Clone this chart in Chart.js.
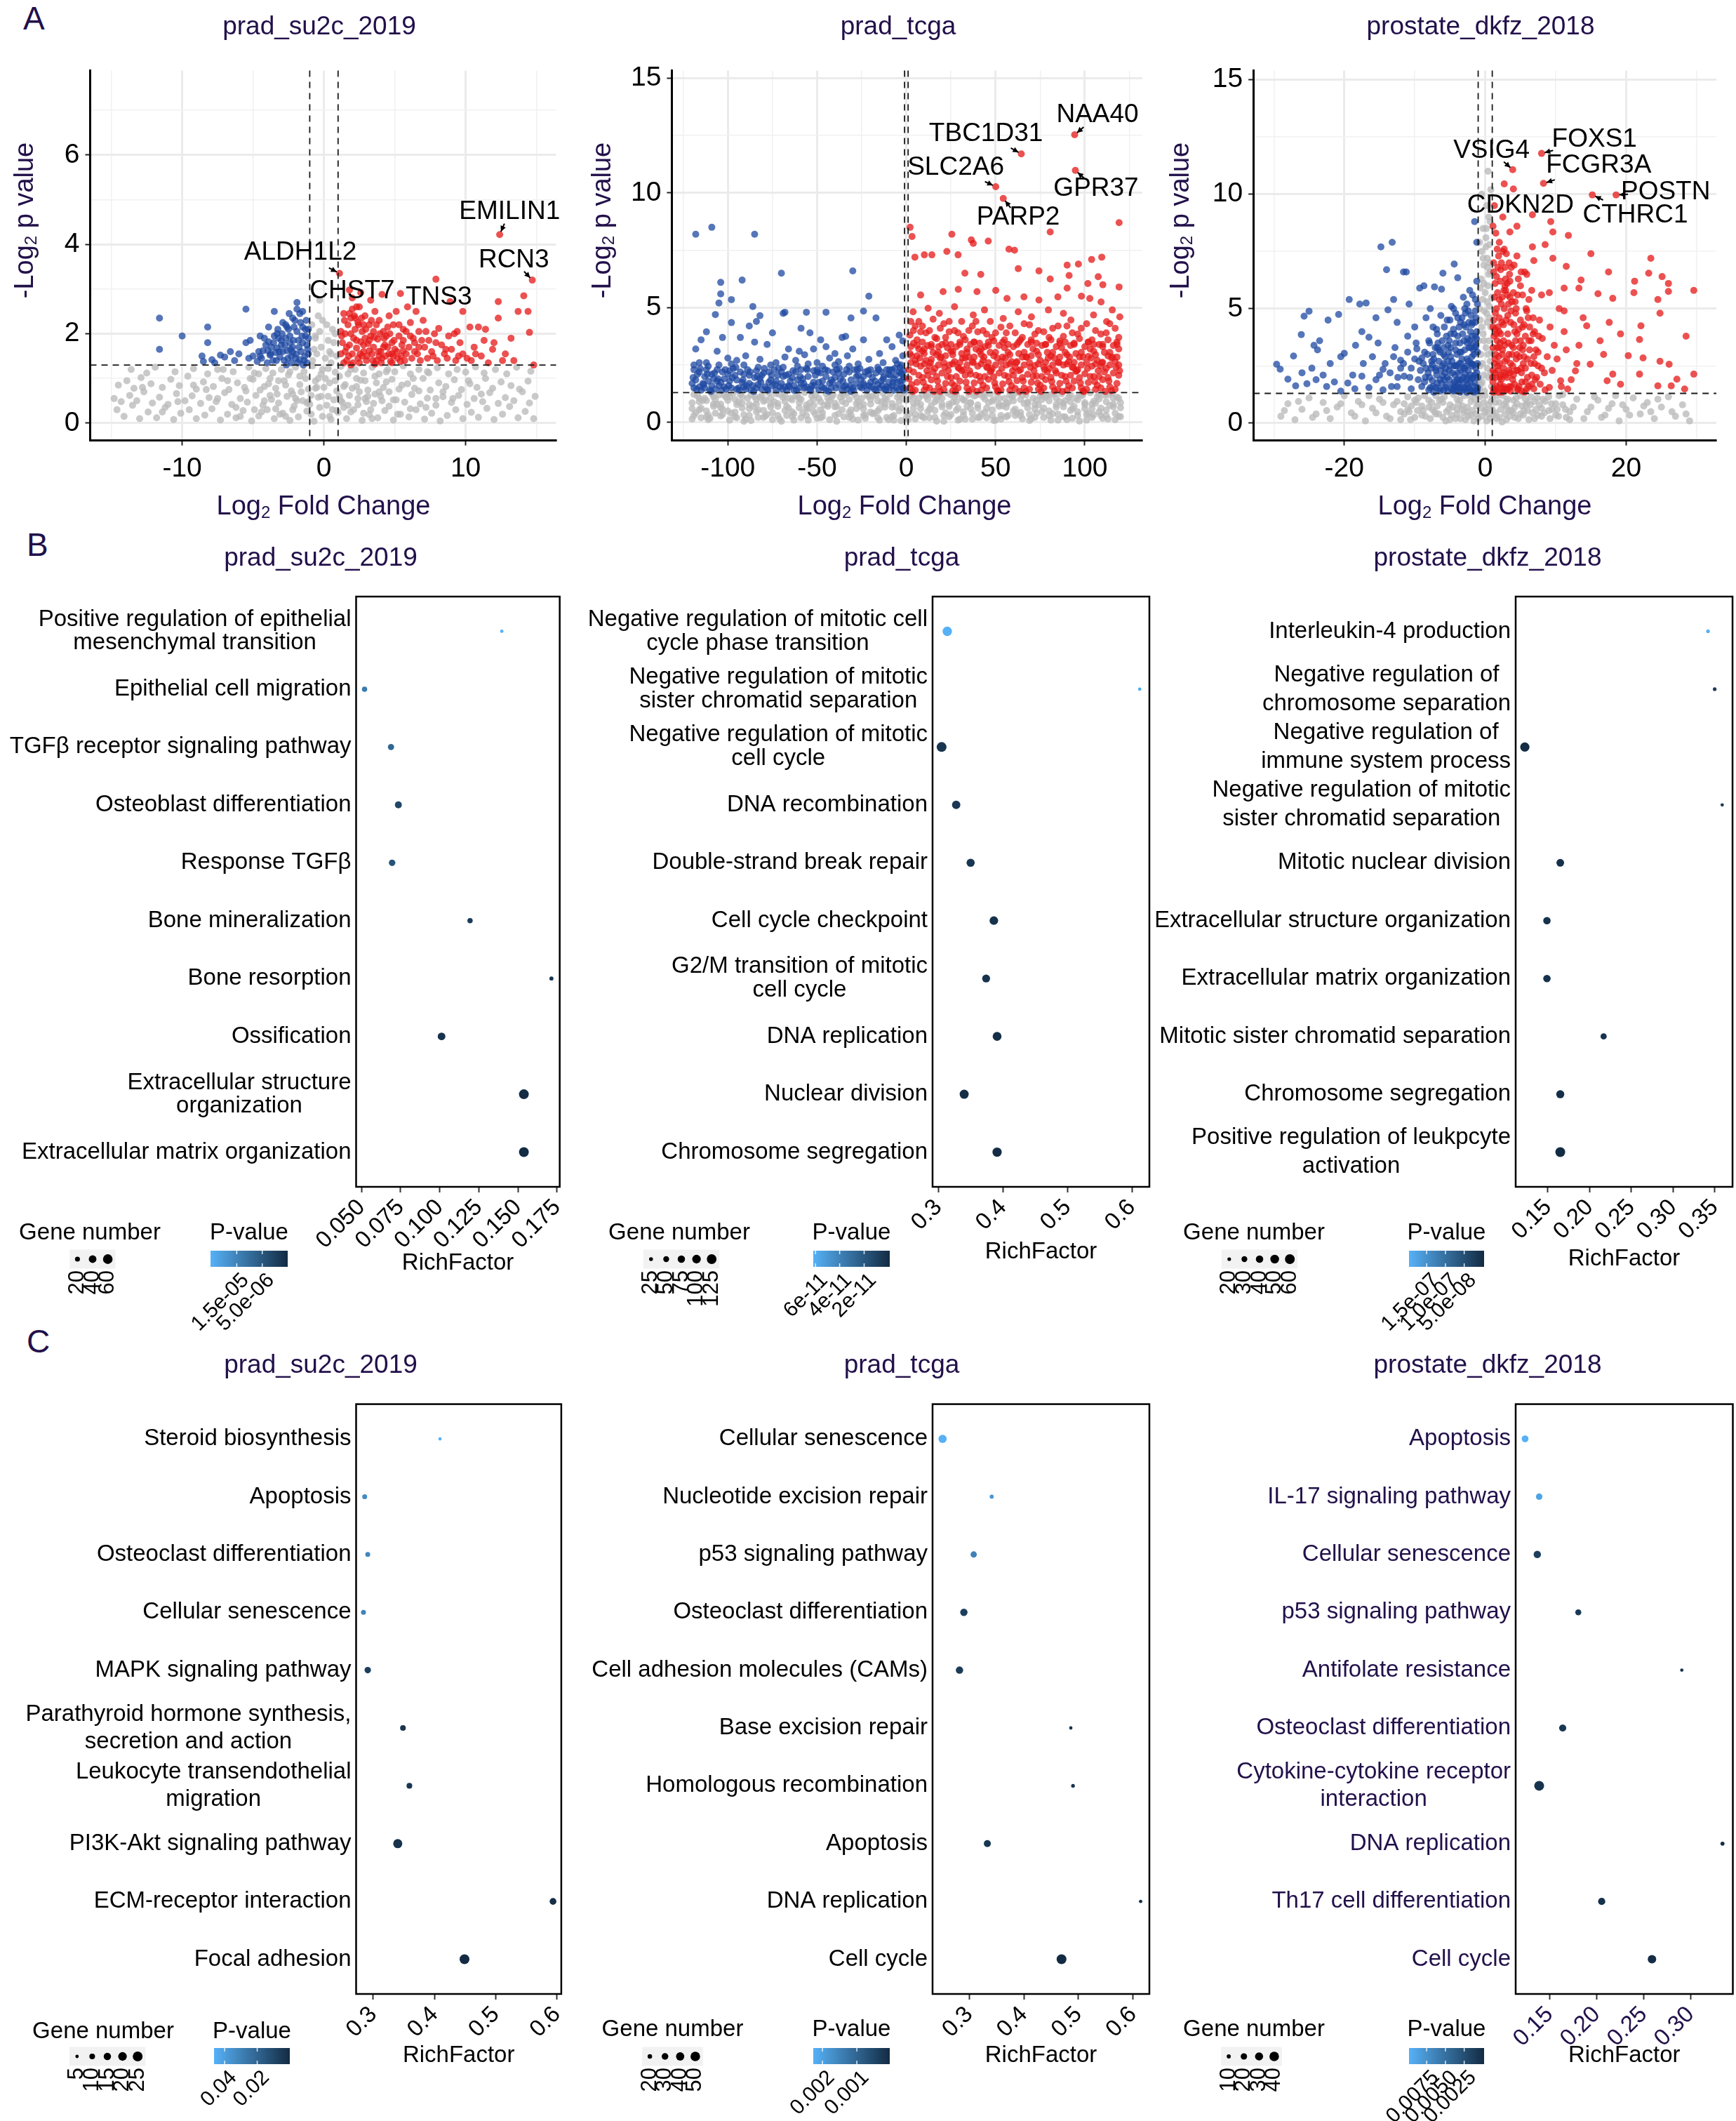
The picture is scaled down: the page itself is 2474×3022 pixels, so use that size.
<!DOCTYPE html>
<html>
<head>
<meta charset="utf-8">
<script src="https://cdn.jsdelivr.net/npm/chart.js@4.4.1/dist/chart.umd.min.js"></script>
<style>
  body { margin: 0; background: #fff; width: 2474px; height: 3022px; position: relative; overflow: hidden; font-family: 'Liberation Sans', Arial, sans-serif; }
  .tag { position: absolute; font-size: 46px; line-height: 1; color: #22104a; }
</style>
</head>
<body>
<div class="tag" style="left:33px;top:3px">A</div>
<div class="tag" style="left:38px;top:753px">B</div>
<div class="tag" style="left:38px;top:1888px">C</div>
<script>
// ---------- A: volcano plots (x = log2 fold change, y = -log p) ----------
const a1Grey = [-14.6,0.3,-14.1,0.15,-13.5,0.4,-13,0.1,-12.4,0.25,-11.8,0.12,-11.2,0.35,-10.6,0.08,-10.1,0.22,-9.5,0.3,-9,0.1,-8.4,0.18,-7.9,0.32,-7.3,0.07,-6.8,0.2,-6.2,0.12,-5.7,0.28,-5.1,0.05,-4.6,0.16,-4,0.3,-3.5,0.1,-2.9,0.22,-2.4,0.06,-1.8,0.14,-1.2,0.27,-0.7,0.04,-0.1,0.15,0.5,0.08,1,0.24,1.6,0.1,2.1,0.3,2.7,0.06,3.2,0.19,3.8,0.12,4.3,0.28,4.9,0.07,5.4,0.2,6,0.14,6.5,0.3,7.1,0.09,7.6,0.22,8.2,0.05,8.7,0.17,9.3,0.3,9.8,0.1,10.4,0.24,10.9,0.13,11.5,0.33,12,0.08,12.6,0.2,13.1,0.37,13.7,0.12,14.2,0.26,14.8,0.1,14.9,0.6,
  -14.8,0.55,-14.3,0.48,-13.7,0.62,-13.2,0.5,-12.7,0.7,-12.1,0.45,-11.6,0.58,-11,0.42,-10.4,0.66,-9.8,0.5,-9.3,0.61,-8.7,0.44,-8.1,0.57,-7.6,0.48,-7,0.68,-6.5,0.42,-5.9,0.55,-5.4,0.47,-4.8,0.62,-4.3,0.4,-3.7,0.53,-3.2,0.45,-2.6,0.6,-2.1,0.38,-1.5,0.5,-1,0.42,-0.4,0.58,0.2,0.4,0.7,0.52,1.3,0.46,1.8,0.62,2.4,0.41,2.9,0.55,3.5,0.44,4,0.6,4.6,0.38,5.1,0.52,5.7,0.47,6.2,0.64,6.8,0.43,7.3,0.56,7.9,0.4,8.4,0.59,9,0.46,9.5,0.62,10.1,0.42,10.6,0.55,11.2,0.48,11.7,0.68,12.3,0.44,12.8,0.57,13.4,0.5,14,0.7,14.5,0.45,
  -14.5,0.85,-13.9,0.95,-13.4,0.78,-12.9,1.02,-12.2,0.88,-11.4,0.8,-10.8,0.98,-10.2,0.84,-9.6,1.05,-9,0.76,-8.5,0.92,-7.8,0.82,-7.2,1,-6.7,0.75,-6.1,0.9,-5.6,0.8,-5,0.98,-4.5,0.74,-3.9,0.88,-3.4,0.78,-2.8,0.95,-2.3,0.72,-1.7,0.86,-1.1,0.76,-0.6,0.94,0,0.8,0.4,0.9,0.9,0.72,1.5,0.86,2,0.78,2.6,0.96,3.1,0.74,3.7,0.9,4.2,0.8,4.8,0.98,5.3,0.76,5.9,0.88,6.4,0.78,7,1,7.5,0.74,8.1,0.9,8.6,0.82,9.2,0.97,9.7,0.75,10.3,0.88,10.8,0.8,11.4,1,11.9,0.78,12.5,0.92,13.2,0.84,13.8,0.76,14.4,0.94,
  -13.6,1.2,-12.5,1.12,-11.9,1.25,-10.5,1.15,-9.2,1.22,-8.2,1.1,-7.5,1.2,-6.4,1.15,-5.3,1.25,-4.6,1.1,-4.1,1.22,-3.6,1.12,-3,1.2,-2.5,1.08,-2,1.25,-1.4,1.15,-0.8,1.28,-0.2,1.1,0.3,1.22,0.8,1.14,1.2,1.27,1.7,1.1,2.2,1.2,2.8,1.12,3.4,1.25,3.9,1.1,4.5,1.2,5,1.15,5.6,1.28,6.1,1.1,6.7,1.2,7.4,1.12,8,1.24,8.8,1.1,9.4,1.2,10,1.14,10.7,1.26,11.3,1.12,12.1,1.2,12.9,1.1,13.6,1.25,14.6,1.16,
  -0.8,1.4,-0.5,1.55,-0.2,1.7,0.1,1.45,0.4,1.6,0.7,1.8,-0.6,1.9,-0.3,2.05,0.2,2.2,0.6,2.1,-0.1,2.3,-0.7,1.65,0.5,1.35,-0.3,2.75,0.8,2,0.9,1.5,
  -4.2,0.5,-3.3,0.65,-2.2,0.3,-1.6,0.7,-0.9,0.2,-0.3,0.35,0.6,0.3,1.1,0.6,1.9,0.25,2.5,0.7,3.3,0.3,4.1,0.5,-3.8,1,-2.7,0.85,-1.3,1,-0.2,0.6,0.8,0.95,2.3,1,3.6,0.65,4.4,0.92,-4.9,0.3,-2,0.55,1.4,0.35,3,0.48,-0.5,0.8,0.1,1,1.2,0.5,-1.1,0.48,-3.1,0.2,2.8,0.22,
  -7.5,0.55,-6.8,0.95,-6.2,0.35,-5.5,0.72,-4.9,1.12,-4.4,0.25,-3.8,0.62,-3.2,0.95,-2.7,0.15,-2.2,0.65,-1.7,1.05,-1.2,0.45,-0.6,0.78,-0.1,1.2,0.3,0.6,0.9,0.28,1.4,0.82,1.9,1.2,2.4,0.55,2.9,0.95,3.4,0.1,3.9,0.7,4.4,1.15,4.9,0.52,5.5,0.85,6.1,0.32,6.7,0.72,7.3,1.15,7.9,0.55,-8.3,0.75,-7.1,1.2,-5.9,0.15,-5.2,1,-4.2,0.82,-3.4,0.32,-2.4,1.15,-1.9,0.5,-0.9,0.62,-0.4,1,0.4,0.15,1.1,1.05,1.7,0.4,2.3,0.82,3.1,0.6,3.6,1.05,4.6,0.7,5.2,0.2,6.3,1,7.2,0.35,8.4,0.7,9.1,0.55,10.2,0.95,11.1,0.65,-9.2,0.85,-10.3,0.48,-11.4,0.25,-12.8,0.8,-0.6,1.95,0.3,1.85,-0.4,2.4,0.5,1.55,-0.85,2.2];
const a1Down = [-11.6,2.35,-11.6,1.65,-10,1.95,-8.2,2.15,-8.2,1.8,-8.6,1.5,-8.5,1.38,-7.9,1.42,-7.3,1.52,-7,1.48,-6.3,1.4,-5.5,2.55,-5.5,1.8,-5.2,1.85,-6,1.55,-4.6,1.6,-4.4,1.45,-4.1,1.75,-3.9,1.82,-3.5,2.5,-3.5,1.95,-3.3,2,-3.2,1.9,-3,1.85,-2.9,1.6,-2.7,2.2,-2.6,2.15,-2.5,2.1,-2.4,1.95,-2.2,1.7,-2.1,2.15,-1.9,2.7,-1.9,2.55,-1.7,2.45,-1.5,2.15,-1.3,1.95,-1.2,1.75,-1.1,1.55,-1.4,1.4,-1.6,1.6,-1.8,1.85,-2,1.45,-2.3,1.5,-2.6,1.62,-2.8,1.4,-3.1,1.48,-3.4,1.58,-3.6,1.4,-3.8,1.52,-4,1.35,-4.3,1.62,-4.7,1.38,-5,1.5,-5.3,1.45,-3.7,1.7,-3,1.75,-2.4,1.8,-1.9,2.05,-1.5,1.8,-1.3,2.1,-1.1,1.9,-2.7,1.9,-3.3,1.68,-2.2,1.58,-1.7,1.42,-1.2,1.35,-4.5,1.95,-3.9,2.15,-2.9,2.25,-2.2,2.35,-1.5,2.5,-1.1,2.1,-6.6,1.6,-7.7,1.35,
  -1.15,1.65,-1.35,1.5,-1.55,1.95,-1.75,1.7,-1.95,1.55,-2.15,1.85,-2.35,1.65,-2.55,1.45,-2.75,1.75,-2.95,2,-3.15,1.6,-3.35,1.4,-3.55,1.8,-3.75,1.55,-3.95,1.62,-4.2,1.9,-4.5,1.5,-2.05,2.3,-1.65,2.25,-1.25,2.3,-2.45,2.45,-1.45,1.3,-1.85,1.35,-2.3,1.35,-3.25,2.1,-2.65,1.3];
const a1Up = [2.6,2.92,3.3,2.75,4.1,2.88,5.4,2.9,5.9,2.6,6.5,2.5,8.9,2.72,9.8,2.5,10.9,2.15,11.4,2.1,11.3,1.85,11.9,1.65,12.3,2.72,12.3,2.35,13.7,2.5,14.1,2.85,14.4,2.5,14.5,2.03,13.4,1.4,12.6,1.4,7.2,2.05,8.1,2.12,8.8,1.95,9.2,2,9.4,2.05,10.7,1.55,6.9,1.85,7.1,1.7,7.7,1.5,8.5,1.55,9.8,1.55,10.4,1.4,11.6,1.35,14.8,1.3,6.2,1.45,5.6,1.62,4.9,2.2,4.6,2.4,4.2,2.05,3.9,2.3,3.6,2.5,3.2,2.2,2.9,2.4,2.5,2.6,2.2,2.35,2,2.55,1.7,2.2,1.4,2.45,1.2,2.05,1.3,1.8,1.5,1.6,1.6,1.4,1.8,1.75,2,1.55,2.1,1.9,2.3,1.68,2.4,1.45,2.6,1.82,2.7,2.05,2.8,1.6,3,1.4,3.1,1.78,3.3,1.95,3.4,1.55,3.5,1.7,3.7,1.4,3.8,1.88,4,1.6,4.1,1.45,4.3,1.75,4.4,1.95,4.6,1.55,4.7,1.38,4.8,1.8,5,1.65,5.2,1.45,5.3,1.95,5.5,1.75,5.7,1.4,5.8,2.05,6,1.7,6.3,1.9,6.6,1.55,6.8,1.4,7,2.3,7.4,1.85,7.6,1.6,8,1.4,8.3,1.75,8.7,1.45,9,1.65,9.3,1.4,9.6,1.8,10.1,1.45,10.3,2.15,10.6,1.7,11.1,1.5,12,1.8,12.8,1.55,13.2,1.9,2,2.8,2.4,2.25,1.9,1.3,2.9,1.9,3.5,2.05,4.5,2.15,5.1,2.5,6.1,2.25,6.7,2.05,7.8,2,3.2,1.62,4.2,1.7,1.5,2,1.8,2.45,2.2,2.1,2.7,1.5,3.9,1.5,4.9,1.5,5.4,1.38,1.2,1.55,1.4,1.35,2.5,1.35,3.6,1.32,1.9,2.35,2.3,2.6,2.8,2.2,4.8,1.35,5.6,2.1,6.4,1.8,
  1.25,1.95,1.45,2.3,1.6,1.7,1.75,1.5,1.9,2,2.05,1.35,2.15,2.4,2.3,1.85,2.45,2.2,2.55,1.55,2.65,2.35,2.8,1.75,2.95,2.1,3.05,1.5,3.2,1.85,3.35,2.3,3.45,1.4,3.55,1.92,3.7,2.2,3.85,1.6,3.95,2,4.05,1.35,4.25,1.9,4.35,1.5,4.5,1.7,4.65,2,4.8,1.55,4.95,1.85,5.15,1.6,5.3,2.2,5.45,1.5,5.6,1.85,5.8,1.55,6.1,1.95,6.4,1.6,6.7,1.7,7.3,1.45,7.9,1.8,8.6,1.65,9.5,1.5];
const a1Genes = ['EMILIN1', 'ALDH1L2', 'RCN3', 'CHST7', 'TNS3'];
const a1GeneX = [12.4, 1.1, 14.7, 1.8, 7.9];
const a1GeneY = [4.22, 3.35, 3.2, 2.98, 3.22];
const a1LabelX = [13.1, -1.66, 13.4, 2.0, 8.1];
const a1LabelY = [4.73, 3.81, 3.64, 2.95, 2.81];

const a2Grey = [-119,0.3,-111,0.12,-103,0.35,-95,0.2,-87,0.08,-79,0.28,-71,0.15,-63,0.38,-55,0.1,-47,0.25,-39,0.05,-31,0.32,-23,0.18,-15,0.1,-7,0.3,1,0.12,9,0.25,17,0.06,25,0.34,33,0.14,41,0.22,49,0.08,57,0.3,65,0.16,73,0.4,81,0.1,89,0.24,97,0.06,105,0.33,113,0.15,119,0.26,
  -116,0.55,-108,0.7,-100,0.5,-92,0.62,-84,0.46,-76,0.68,-68,0.52,-60,0.64,-52,0.48,-44,0.7,-36,0.55,-28,0.6,-20,0.45,-12,0.66,-4,0.5,4,0.62,12,0.47,20,0.68,28,0.53,36,0.6,44,0.45,52,0.7,60,0.5,68,0.63,76,0.48,84,0.66,92,0.52,100,0.6,108,0.46,116,0.68,
  -120,0.85,-112,0.95,-104,0.8,-96,1,-88,0.78,-80,0.92,-72,0.82,-64,0.98,-56,0.76,-48,0.9,-40,0.84,-32,1,-24,0.78,-16,0.94,-8,0.82,0,0.96,8,0.78,16,0.9,24,0.8,32,0.98,40,0.76,48,0.92,56,0.84,64,1,72,0.78,80,0.94,88,0.82,96,0.98,104,0.8,112,0.9,120,0.86,
  -117,1.15,-109,1.25,-101,1.1,-93,1.22,-85,1.12,-77,1.28,-69,1.08,-61,1.2,-53,1.15,-45,1.26,-37,1.1,-29,1.22,-21,1.12,-13,1.27,-5,1.1,3,1.2,11,1.14,19,1.26,27,1.1,35,1.22,43,1.12,51,1.28,59,1.1,67,1.2,75,1.14,83,1.26,91,1.1,99,1.22,107,1.12,115,1.27,
  -115,0.2,-107,0.4,-99,0.1,-91,0.33,-83,0.22,-75,0.12,-67,0.3,-59,0.2,-51,0.36,-43,0.12,-35,0.24,-27,0.1,-19,0.38,-11,0.22,-3,0.08,5,0.36,13,0.2,21,0.3,29,0.1,37,0.4,45,0.2,53,0.14,61,0.3,69,0.08,77,0.22,85,0.36,93,0.18,101,0.1,109,0.3,117,0.12,
  -120,0.6,-112,0.5,-104,0.64,-96,0.45,-88,0.6,-80,0.52,-72,0.7,-64,0.46,-56,0.62,-48,0.55,-40,0.68,-32,0.44,-24,0.58,-16,0.5,-8,0.66,0,0.45,8,0.6,16,0.52,24,0.7,32,0.46,40,0.62,48,0.55,56,0.66,64,0.44,72,0.58,80,0.5,88,0.68,96,0.46,104,0.6,112,0.54,120,0.64,
  -116,0.9,-108,0.8,-100,0.96,-92,0.84,-84,1,-76,0.8,-68,0.92,-60,0.86,-52,1.02,-44,0.78,-36,0.92,-28,0.82,-20,1,-12,0.8,-4,0.92,4,0.84,12,1,20,0.8,28,0.9,36,0.86,44,1.02,52,0.8,60,0.94,68,0.84,76,1,84,0.78,92,0.9,100,0.86,108,1.02,116,0.8,
  -113,1.05,-105,1.2,-97,1.28,-89,1.05,-81,1.18,-73,1.25,-65,1.05,-57,1.3,-49,1.05,-41,1.2,-33,1.28,-25,1.05,-17,1.18,-9,1.24,-1,1.3,7,1.05,15,1.2,23,1.28,31,1.05,39,1.18,47,1.24,55,1.05,63,1.3,71,1.06,79,1.18,87,1.25,95,1.05,103,1.3,111,1.18,119,1.05,
  -118,0.42,-114,0.95,-110,0.18,-106,0.78,-102,1.18,-98,0.4,-94,0.88,-90,0.15,-86,0.7,-82,1.1,-78,0.35,-74,0.9,-70,0.05,-66,0.62,-62,1.15,-58,0.42,-54,0.85,-50,0.18,-46,0.75,-42,1.1,-38,0.38,-34,0.82,-30,0.15,-26,0.72,-22,1.18,-18,0.4,-14,0.88,-10,0.12,-6,0.68,-2,1.05,2,0.38,6,0.85,10,0.2,14,0.74,18,1.12,22,0.42,26,0.88,30,0.14,34,0.7,38,1.15,42,0.36,46,0.86,50,0.1,54,0.72,58,1.2,62,0.4,66,0.82,70,0.16,74,0.76,78,1.1,82,0.38,86,0.9,90,0.12,94,0.7,98,1.16,102,0.4,106,0.84,110,0.18,114,0.74,118,1.1,
  -119,1.22,-115,0.62,-111,0.32,-107,1,-103,0.58,-99,1.12,-95,0.78,-91,0.05,-87,1.2,-83,0.55,-79,0.98,-75,0.42,-71,1.22,-67,0.7,-63,0.1,-59,1,-55,0.6,-51,1.2,-47,0.42,-43,0.95,-39,0.7,-35,1.18,-31,0.55,-27,0.9,-23,0.32,-19,1.15,-15,0.6,-11,1,-7,0.1,-3,0.62,1,1,5,0.15,9,1.2,13,0.58,17,0.98,21,0.05,25,1.2,29,0.62,33,0.95,37,0.14,41,1.22,45,0.62,49,1,53,0.3,57,0.85,61,0.58,65,1.18,69,0.35,73,0.98,77,0.62,81,1.2,85,0.1,89,0.95,93,0.6,97,1.2,101,0.35,105,0.92,109,0.62,113,1.2,117,0.4,
  -120,0.15,-116,1.05,-112,0.25,-108,1.12,-104,0.28,-100,1.22,-96,0.25,-92,1.12,-88,0.3,-84,0.8,-80,0.22,-76,1.05,-72,0.3,-68,1.2,-64,0.25,-60,1.05,-56,0.3,-52,0.75,-48,0.2,-44,1.05,-40,0.3,-36,1.25,-32,0.22,-28,1.1,-24,0.3,-20,0.8,-16,0.2,-12,1.05,-8,0.25,-4,1.2,0,0.2,4,1.1,8,0.3,12,1.25,16,0.22,20,1.05,24,0.25,28,1.22,32,0.3,36,0.85,40,0.22,44,1.25,48,0.3,52,1.05,56,0.25,60,1.2,64,0.3,68,0.9,72,0.22,76,1.25,80,0.3,84,1.05,88,0.25,92,1.2,96,0.3,100,0.78,104,0.22,108,1.25,112,0.3,116,1.05,120,0.25];
const a2Down = [-118,8.2,-109,8.5,-85,8.2,-70,6.5,-30,6.6,-104,6.1,-92,6.2,-104,5.6,-105,5.2,-98,5.35,-86,5.05,-107,4.7,-21,5.5,-45,4.8,-56,4.8,-69,4.75,-68,4.8,-24,4.85,-31,4.55,-17,4.55,-82,4.65,-84,4.4,-98,4.35,-88,4.2,-75,3.9,-59,4.1,-54,3.9,-112,3.95,-103,3.7,-93,3.7,-115,3.6,-85,3.5,-78,3.4,-66,3.2,-48,3.6,-36,3.7,-34,3.75,-24,3.6,-11,3.6,-4,3.8,-2,3.55,-45,3.3,-52,3.2,-60,3.1,-40,3,-30,3.2,-15,3,-8,3.3,-2,2.9,-106,3.1,-100,2.8,-95,2.7,-90,2.9,-82,2.75,-73,2.6,-68,2.85,-62,2.7,-57,2.95,-50,2.6,-43,2.8,-38,2.65,-33,2.9,-27,2.55,-21,2.75,-13,2.6,-6,2.7,-118,3.2,-116,2.6,-111,2.45,
  -119,1.5,-117,2.1,-114,1.7,-112,2.3,-110,1.4,-108,1.9,-105,1.6,-103,2.2,-101,1.45,-99,1.8,-96,2.05,-94,1.5,-92,1.75,-89,2.3,-87,1.4,-85,1.95,-83,1.65,-80,2.15,-78,1.45,-76,1.85,-74,2.3,-71,1.55,-69,2,-67,1.4,-65,1.8,-62,2.2,-60,1.5,-58,1.9,-56,2.35,-53,1.6,-51,2.05,-49,1.42,-47,1.8,-44,2.25,-42,1.5,-40,1.95,-38,1.65,-35,2.1,-33,1.45,-31,1.85,-29,2.3,-26,1.55,-24,2,-22,1.4,-20,1.75,-17,2.15,-15,1.5,-13,1.9,-11,2.3,-8,1.6,-6,2.05,-4,1.45,-2,1.85,-1.5,2.25,
  -118,1.85,-115,1.4,-113,2,-109,1.6,-106,2.3,-104,1.75,-100,2.1,-98,1.5,-95,1.85,-91,1.55,-88,2.05,-86,1.6,-82,1.9,-79,1.55,-75,1.6,-72,2.05,-70,1.7,-66,2.1,-63,1.6,-61,1.85,-57,1.5,-55,2,-52,1.75,-48,2.15,-46,1.5,-43,1.7,-41,2.2,-37,1.9,-34,1.6,-32,2.2,-28,1.7,-25,1.5,-23,2.2,-19,1.95,-16,1.65,-14,2.2,-12,1.45,-10,1.75,-9,2.05,-7,1.4,-5,1.75,-3,2.15,-2,1.5,-1.3,1.95,-3.5,2.4,-6.5,2.35,-9.5,1.5,-12.5,2,-18,1.45,-21,2.1,-27,2.05,-30,1.5,-36,1.4,-39,2.3,-45,2,-50,2.3,-54,1.45,-59,2.3,-64,1.95,-68,1.55,-73,1.8,-77,2.2,-81,1.45,-84,2.25,-90,1.45,-93,2.2,-97,2.35,-102,1.9,-107,1.45,-111,1.8,-116,1.55,-119,2.5,
  -120,1.7,-116,2.2,-113,1.5,-109,2.1,-106,1.8,-102,1.55,-99,2.25,-95,1.45,-91,2.1,-88,1.7,-84,1.5,-81,2.05,-77,1.75,-73,1.4,-70,2.2,-66,1.6,-63,1.4,-59,1.7,-56,1.55,-52,2.25,-49,1.75,-45,1.4,-42,1.85,-38,2.15,-35,1.55,-31,1.35,-28,2,-24,1.7,-21,1.6,-17,1.4,-14,1.8,-10,2.1,-7,1.9,-4,2.2,-2.5,1.6,-1.4,1.4,-3,2.5,-5,2.55,-8,2.3,-11,1.55,-16,2.4,-20,2.3,-26,2.35,-32,2.45,-40,2.5,-47,2.45,-55,2.55,-61,2.45,-69,2.4,-76,2.5,-83,2.4,-91,2.5,-98,2.55,-105,2.5,-112,2.6,-119,2.3,
  -119.5,1.95,-117.5,1.45,-115.5,2.35,-113.5,1.65,-111.5,2.1,-109.5,1.35,-107.5,2.15,-105.5,1.9,-103.5,1.4,-101.5,2.3,-99.5,1.6,-97.5,1.95,-95.5,2.4,-93.5,1.4,-91.5,1.85,-89.5,1.6,-87.5,2.2,-85.5,1.35,-83.5,2,-81.5,1.75,-79.5,2.35,-77.5,1.4,-75.5,2.05,-73.5,1.65,-71.5,2.35,-69.5,1.45,-67.5,2.05,-65.5,1.55,-63.5,2.25,-61.5,1.4,-59.5,2,-57.5,1.7,-55.5,2.3,-53.5,1.38,-51.5,1.6,-49.5,2.2,-47.5,1.55,-45.5,2.3,-43.5,1.35,-41.5,1.75,-39.5,1.5,-37.5,2.35,-35.5,1.8,-33.5,2.3,-31.5,1.6,-29.5,1.4,-27.5,2.3,-25.5,1.85,-23.5,1.6,-21.5,2.25,-19.5,1.55,-17.5,1.8,-15.5,2.3,-13.5,1.6,-11.5,1.4,-9.5,2.3,-7.5,1.75,-5.5,1.5,-3.5,1.8,-2.5,2.1,-1.5,1.5];
const a2Up = [2.1,8.5,3.2,8.1,25.5,8.2,36.4,7.95,37.5,7.8,45.9,7.9,80.6,8.3,119.2,8.7,57.5,7.55,60.6,7.5,22.7,7.45,29,7.3,4.8,7.2,10.1,7.3,14.3,7.3,109.5,7.2,103.8,7.1,90.1,6.85,96.4,6.9,62.7,6.7,74.3,6.6,32.8,6.5,41.7,6.45,80.6,6.25,91.2,6.4,107.5,6.35,119.2,5.9,110.1,6,101.7,6.05,90.1,5.85,8,5.55,20.6,5.7,29.1,5.8,39.6,5.7,50.1,5.75,56.4,5.4,65.9,5.47,74.3,5.33,84.9,5.47,98.1,5.5,102.8,5.4,109.1,5.25,115.4,4.9,119.6,4.6,3.8,4.82,12.2,4.97,18.5,4.75,27,5.04,37.5,4.68,43.8,4.9,54.3,4.53,62.7,4.82,70.1,4.6,79.6,4.9,88,4.75,92.2,4.46,104.9,4.68,112.2,4.39,
  2,1.5,6,1.75,10,1.4,14,1.85,18,1.55,22,1.7,26,1.38,30,1.8,34,1.5,38,1.72,42,1.42,46,1.88,50,1.55,54,1.68,58,1.4,62,1.82,66,1.5,70,1.75,74,1.45,78,1.86,82,1.55,86,1.7,90,1.4,94,1.8,98,1.5,102,1.74,106,1.44,110,1.86,114,1.55,118,1.7,
  4,2.2,8,2.45,12,2.05,16,2.35,20,2.15,24,2.5,28,2,32,2.3,36,2.1,40,2.45,44,2,48,2.35,52,2.15,56,2.5,60,2.05,64,2.3,68,2.1,72,2.48,76,2,80,2.35,84,2.15,88,2.5,92,2.05,96,2.3,100,2.12,104,2.45,108,2,112,2.36,116,2.15,119,2.5,
  3,2.9,7,3.2,11,2.7,15,3.05,19,2.8,23,3.25,27,2.65,31,3,35,2.85,39,3.2,43,2.7,47,3.05,51,2.8,55,3.25,59,2.65,63,3,67,2.85,71,3.2,75,2.7,79,3.05,83,2.8,87,3.25,91,2.65,95,3,99,2.85,103,3.2,107,2.7,111,3.05,115,2.8,119,3.2,
  2,3.8,5,4.2,9,3.5,13,4,17,3.65,21,4.3,25,3.4,29,3.9,33,3.6,37,4.2,41,3.45,45,3.85,49,3.55,53,4.15,57,3.4,61,3.9,65,3.7,69,4.25,73,3.45,77,3.95,81,3.6,85,4.2,89,3.5,93,3.9,97,3.65,101,4.3,105,3.4,109,3.85,113,3.6,117,4.1,
  1.5,1.9,5,1.4,9,1.95,13,1.5,17,2,21,1.45,25,1.95,29,1.5,33,2.05,37,1.45,41,2,45,1.5,49,1.98,53,1.42,57,2,61,1.48,65,1.95,69,1.45,73,2.02,77,1.5,81,1.96,85,1.44,89,2,93,1.5,97,1.95,101,1.45,105,2,109,1.5,113,1.95,117,1.45,
  2.5,2.6,6,2.9,10,2.55,14,2.75,18,2.5,22,2.9,26,2.55,30,2.6,34,2.5,38,2.85,42,2.55,46,2.6,50,2.5,54,2.85,58,2.55,62,2.65,66,2.5,70,2.9,74,2.55,78,2.62,82,2.5,86,2.85,90,2.55,94,2.62,98,2.5,102,2.88,106,2.55,110,2.62,114,2.5,118,2.85,
  4,3.45,8,3.95,12,3.35,16,3.7,20,3.4,24,3.95,28,3.3,32,3.75,36,3.4,40,3.95,44,3.3,48,3.7,52,3.35,56,3.9,60,3.3,64,3.6,68,3.4,72,3.85,76,3.35,80,3.7,84,3.3,88,3.75,92,3.35,96,3.85,100,3.3,104,3.6,108,3.4,112,3.9,116,3.35,119,3.7,
  3,1.65,7,2.05,11,1.55,15,2.2,19,1.35,23,2,27,1.6,31,2.25,35,1.35,39,2.05,43,1.62,47,2.2,51,1.38,55,2.05,59,1.6,63,2.25,67,1.35,71,2,75,1.62,79,2.2,83,1.38,87,2.05,91,1.6,95,2.22,99,1.36,103,2,107,1.62,111,2.2,115,1.38,119,2.05,
  5,2.7,9,3.1,13,2.45,17,2.95,21,2.6,25,3.1,29,2.4,33,2.8,37,2.65,41,3.1,45,2.4,49,2.9,53,2.65,57,3.05,61,2.4,65,2.85,69,2.6,73,3.1,77,2.42,81,2.9,85,2.62,89,3.05,93,2.4,97,2.85,101,2.6,105,3.1,109,2.45,113,2.9,117,2.65,2.5,3.3,
  2.5,4.4,4,4,6,3.6,7,4.4,9,4.2,10,3.2,11,3.9,14,3.4,15,4.5,18,3.3,19,4.1,22,3.7,24,4.4,26,3.1,27,4,30,3.5,31,4.4,34,3.2,35,4,38,3.5,39,4.4,42,3.2,43,4,46,3.5,47,4.4,50,3.9,55,3.6,58,4.2,63,3.5,66,4.3,70,3.6,74,4,78,3.4,82,4.1,86,3.55,90,4.2,94,3.45,98,4.1,102,3.5,106,4,110,3.3,114,4.3,118,3.4,
  1.5,2.3,5.5,2.55,9.5,1.75,13.5,2.6,17.5,1.8,21.5,2.4,25.5,1.7,29.5,2.35,33.5,1.75,37.5,2.6,41.5,1.8,45.5,2.4,49.5,1.72,53.5,2.35,57.5,1.78,61.5,2.6,65.5,1.8,69.5,2.4,73.5,1.72,77.5,2.3,81.5,1.78,85.5,2.6,89.5,1.8,93.5,2.4,97.5,1.72,101.5,2.35,105.5,1.78,109.5,2.6,113.5,1.8,117.5,2.4,
  3.5,1.35,7.5,2.8,11.5,2.25,15.5,1.35,19.5,2.85,23.5,2.25,27.5,1.35,31.5,2.8,35.5,2.25,39.5,1.35,43.5,2.85,47.5,2.25,51.5,1.35,55.5,2.8,59.5,2.25,63.5,1.35,67.5,2.85,71.5,2.25,75.5,1.35,79.5,2.8,83.5,2.25,87.5,1.35,91.5,2.85,95.5,2.25,99.5,1.35,103.5,2.8,107.5,2.25,111.5,1.35,115.5,2.85,119.5,2.25,
  2,3,6,3.35,10,3,14,3.3,18,3.05,22,3.45,26,2.95,30,3.4,34,3.05,38,3.5,42,2.95,46,3.35,50,3.05,54,3.5,58,2.95,62,3.4,66,3.05,70,3.5,74,2.95,78,3.4,82,3.05,86,3.45,90,2.95,94,3.4,98,3.05,102,3.5,106,2.95,110,3.4,114,3.05,118,3.5];
const a2Genes = ['NAA40', 'TBC1D31', 'SLC2A6', 'GPR37', 'PARP2'];
const a2GeneX = [94.3, 64.4, 50.1, 94.7, 54.3];
const a2GeneY = [12.53, 11.7, 10.27, 10.98, 9.76];
const a2LabelX = [107.1, 44.6, 27.7, 106.3, 62.7];
const a2LabelY = [13.39, 12.56, 11.09, 10.18, 8.93];

const a3Grey = [-29,0.3,-28,0.85,-27,0.15,-26,0.6,-25,1.1,-24,0.4,-23,0.9,-22,0.2,-21,0.7,-20,1.2,-19,0.45,-18,0.95,-17,0.1,-16,0.65,-15,1.05,-14,0.3,-13,0.8,-12,0.5,-11,1.15,-10,0.25,-9,0.75,-8,1,-7,0.4,-6,0.9,-5,0.15,-4,0.6,-3,1.2,-2,0.35,-1,0.85,0,0.5,1,1.1,2,0.25,3,0.7,4,1,5,0.4,6,0.9,7,0.2,8,0.65,9,1.15,10,0.35,11,0.8,12,0.5,13,1.05,14,0.2,15,0.7,16,1,17,0.35,18,0.85,19,0.1,20,0.6,21,1.1,22,0.4,23,0.9,24,0.2,25,0.7,26,1.15,27,0.3,28,0.8,29,0.1,
  -13.5,0.2,-12.5,0.95,-11.5,0.4,-10.5,0.75,-9.5,1.1,-8.5,0.3,-7.5,0.6,-6.5,1,-5.5,0.5,-4.5,1.25,-3.5,0.2,-2.5,0.7,-1.5,1.05,-0.5,0.3,0.5,0.8,1.5,0.45,2.5,1.2,3.5,0.3,4.5,0.85,5.5,0.55,6.5,1.15,7.5,0.35,8.5,0.95,9.5,0.6,10.5,1.2,11.5,0.25,12.5,0.7,
  -12,0.15,-11,0.6,-10,1,-9,0.35,-8,0.7,-7,1.2,-6,0.25,-5,0.8,-4,1.05,-3,0.45,-2,0.95,-1,0.2,0,1.2,1,0.6,2,0.9,3,0.15,4,0.45,5,1.2,6,0.55,7,0.95,8,0.3,9,0.55,10,0.85,11,1.25,12,0.15,
  -10.8,0.5,-9.8,0.9,-8.8,0.55,-7.8,0.2,-6.8,0.75,-5.8,1.15,-4.8,0.35,-3.8,0.85,-2.8,0.15,-1.8,0.55,-0.8,1.15,0.2,0.1,1.2,0.35,2.2,0.6,3.2,1.05,4.2,0.25,5.2,0.75,6.2,0.15,7.2,0.6,8.2,1.05,9.2,0.2,10.2,0.6,-3.3,0.6,-1.3,0.4,0.8,0.95,2.8,0.4,
  -18.5,0.3,-17.5,0.8,-16.5,1.2,-15.5,0.45,-14.5,0.9,-20.5,0.85,-22.5,0.55,-24.5,0.25,-26.5,0.95,-28.5,0.55,14.5,0.5,15.5,1.15,16.5,0.25,17.5,0.65,18.5,1.2,20.5,0.35,22.5,0.75,24.5,1.05,26.5,0.5,28.5,0.4,19.5,0.8,23.5,0.5,
  -0.8,1.5,-0.5,1.8,-0.2,2.1,0.3,2.4,0.7,2.7,-0.6,3,0.1,3.3,0.5,3.6,-0.3,3.9,0.8,4.2,-0.7,4.5,0.2,4.8,0.6,5.1,-0.4,5.4,0,5.7,0.4,6,-0.6,6.3,0.7,6.6,-0.2,6.9,0.3,7.2,-0.5,7.5,0.6,7.8,0.1,8.1,-0.3,8.5,0.15,8.5,0.5,9,0.8,10.2,0.4,11,-0.9,1.9,0.9,1.6,-0.1,1.4,0.5,2,-0.7,2.5,0.9,3.1,-0.9,3.6,0.3,4.4,-0.8,5,0.9,5.5,-0.2,6.1,0.6,7,-0.8,7.9,0.2,9.5,-0.5,10,0.7,8.8,
  -11.5,0.85,-10.6,0.15,-9.6,0.55,-8.6,1.2,-7.6,0.9,-6.6,0.4,-5.6,0.1,-4.6,0.7,-3.6,1,-2.6,0.5,-1.6,0.1,-0.6,0.65,0.4,0.4,1.4,0.9,2.4,0.05,3.4,0.55,4.4,1.1,5.4,0.35,6.4,0.8,7.4,1.1,8.4,0.45,9.4,0.85,10.4,0.3,11.4,0.6,-7.2,0.5,-6.2,1.05,-5.2,0.6,-4.2,0.2,-3.2,0.75,-2.2,1.2,-1.2,0.75,-0.2,0.9,0.7,0.2,1.7,1.2,2.7,0.8,3.7,0.55,4.7,0.2,5.7,1.05,6.7,0.45,7.7,0.8,-4,0.4,-2.4,0.3,-1.1,1.25,0.1,0.6,1.6,0.2,3,0.95,4.2,0.7,5.8,0.8,-0.4,2.6,0.4,3,-0.2,3.6,0.6,4.6,-0.5,4.2,0.3,5.3,-0.7,5.9,0.5,6.5,-0.3,7.2,0.1,7.7,-0.6,1.7,0.75,2.2,-0.15,4.9,0.35,6.8];
const a3Down = [-29.6,2.57,-29.1,2.36,-28,1.92,-27.2,2.93,-26.9,1.63,-26.1,3.87,-25.7,4.67,-25,4.89,-25.3,1.72,-24.6,2.4,-24.3,3.4,-23.8,3.2,-23.5,3.6,-23,2.1,-22.3,4.5,-22,2.6,-21.4,1.8,-20.8,4.75,-20.5,2.9,-20,3.05,-19.3,5.4,-18.8,2.1,-18.4,3.4,-17.8,5.2,-17.5,4,-17.3,2.6,-16.9,5.25,-16.5,3.75,-16,2.9,-15.5,4.6,-15.2,3.5,-14.8,7.7,-14.5,2.35,-14,6.7,-13.8,4.95,-13.2,7.9,-13,5.4,-12.8,3.3,-12.5,4.4,-12,2.75,-11.6,6.6,-11.2,6.6,-11,3.8,-10.8,5.2,-10.5,2.4,-10,4.2,-9.7,3.25,-9.3,5.9,-9,2.85,-8.7,6,-8.4,4.6,-8,3.6,-7.8,5,-7.5,2.55,-7.2,5.95,-6.9,4.1,-6.6,3.2,-6.2,5.85,-6,6.55,-5.7,2.9,-5.4,4.5,-5.1,3.6,-4.8,5.1,-4.4,6.95,-4.2,2.5,-3.9,6.35,-3.7,4.2,-3.4,3.1,-3.1,5.5,-2.8,4.8,-2.5,3.7,-2.2,5.8,-2,2.6,-1.8,4.4,-1.5,8.8,-1.4,3.3,-1.2,7.9,-1.1,5.2,
  -9,1.6,-8.5,2,-8,1.45,-7.5,1.85,-7,2.3,-6.5,1.5,-6,2.05,-5.5,1.65,-5,2.5,-4.5,1.4,-4,1.9,-3.5,2.3,-3,1.55,-2.5,2,-2,1.4,-1.5,1.75,-1.2,2.2,-8.8,2.6,-8.2,3,-7.7,2.4,-7.1,3.3,-6.6,2.7,-6.1,3.6,-5.6,2.4,-5.2,3.1,-4.7,2.7,-4.2,3.5,-3.7,2.6,-3.2,3.9,-2.7,2.5,-2.3,3.3,-1.9,2.9,-1.4,3.8,-1.1,2.6,-6.8,3.9,-5.8,4.2,-4.9,3.9,-3.9,4.6,-3,4.3,-2.1,4,-1.3,4.6,-1.6,1.35,-2.8,1.5,-3.8,1.7,-4.8,1.5,-5.8,1.9,-6.8,1.75,-7.8,1.55,-9.5,1.9,-10.5,1.5,-11.5,2.05,-12.5,1.6,-13.5,2.2,-14.5,1.45,-15.5,1.9,-16.5,1.55,-17.5,2.05,-18.5,1.5,-19.5,1.75,-20.5,1.4,-22.5,1.6,-24,1.9,-26,2.2,-10,2.8,-11,3.1,-12,2.4,-13,2.9,-6.3,4.7,-4.5,5,-2.6,5.2,-1.8,5.6,-1.2,6.2,-3.6,1.35,-5.3,1.4,-7.3,1.35,-9.2,2.3,-1.7,3.2,-2.4,2.3,-3.3,2.8,-4.3,2.1,-5.1,2.3,-6.3,2.3,-7.3,2.8,-8.4,2.4,-1.1,1.55,-1.9,1.95,-2.9,2.15,-4.1,1.45,-5.9,1.45,
  -8.6,1.8,-8.1,2.2,-7.6,2.7,-7.4,1.6,-6.9,2.1,-6.4,3.1,-6.2,1.75,-5.9,2.6,-5.4,2,-5.3,3.4,-4.9,2.9,-4.6,1.7,-4.4,2.5,-4.4,3.9,-4,3,-3.9,2.2,-3.6,3.5,-3.4,1.9,-3.1,2.4,-2.9,3.2,-2.6,2.8,-2.5,1.7,-2.2,3.6,-2.1,2.1,-1.9,4.3,-1.8,2.5,-1.6,3,-1.5,2.1,-1.3,3.4,-1.2,4,-1.1,3.1,-1.4,4.9,-2,4.7,-2.9,5,-3.5,4.4,-4.2,4.8,-5,4.5,-5.9,3.3,-6.8,3.3,-7.4,4.2,-7.9,3.5,-8.6,3.1,-9.4,2.7,-9.8,3.5,-10.7,2,-11.6,2.6,-12.4,2,-13.3,1.6,-14.2,2.6,-15,2.1,-1.15,1.45,-1.6,2.55,-2.35,1.55,-3.05,1.45,-3.7,1.55,-4.4,1.6,-5.6,1.55,-6.4,1.4,-7,1.55,-7.9,2,
  -1.05,2,-1.25,3.7,-1.35,2.4,-1.45,4.4,-1.55,1.6,-1.65,3.5,-1.75,2,-1.85,3.8,-1.95,2.6,-2.05,3.3,-2.15,1.8,-2.3,4.4,-2.4,2.7,-2.55,3.5,-2.65,1.9,-2.75,4.2,-2.9,2.4,-3,3.6,-3.15,2,-3.3,4.6,-3.45,2.6,-3.6,3.1,-3.75,1.9,-3.9,3.8,-4.05,2.5,-4.2,3.2,-4.35,1.8,-4.5,4.1,-4.7,2.2,-4.9,3.3,-5.1,1.9,-5.3,2.7,-5.5,3.8,-5.7,2.2,-5.9,3,-6.1,2.5,-6.4,1.9,-6.7,3.5,-7,2.4,-7.4,3,-1.2,1.4,-1.7,1.4,-2.2,1.5,-2.6,1.35,-3.1,1.75,-3.5,1.5,-4,1.6,-4.6,1.45,-1.4,5.4,-2.4,4.9];
const a3Up = [2.7,10.45,9.3,8.8,6.7,9.1,4.5,8.6,3.5,8.35,9.6,8.35,11.8,8.2,8.5,7.8,6.7,7.7,2.7,7.6,9.6,7.2,6.9,7.1,15,7.4,23.5,7.2,17.5,6.6,23.2,6.55,25.1,6.4,11.5,6.85,5.9,6.5,13.6,6.25,21.2,6.2,26,6.1,29.6,5.8,13.3,5.9,16,5.65,18.1,5.45,21.1,5.7,26,5.75,9.1,5.7,8,5.6,24.5,5.4,11.2,4.9,13.9,4.6,17.6,4.4,14.4,4.25,22.1,4.25,24.8,4.8,28.5,3.8,19.2,3.9,21.9,3.65,16.3,3.6,13.3,3.4,11.2,4,20.3,2.95,22.4,2.85,24.8,2.7,26.1,2.57,16.8,3,14.9,2.57,12.8,2.28,18.1,2.14,21.9,2.14,27.2,1.92,29.6,2.14,28.3,1.49,26.4,1.63,24.5,1.63,19.2,1.7,17.3,1.85,10.7,1.85,9.1,1.56,11.7,1.49,
  1.2,1.5,1.5,2,1.8,2.5,2.1,1.7,2.4,3,2.7,2.2,3,1.45,3.3,3.5,3.6,2.6,3.9,1.9,4.2,4,4.5,3,4.8,1.6,5.1,2.4,5.4,3.4,5.7,1.8,6,2.8,6.3,4.2,6.6,2.1,6.9,1.5,7.2,3.2,7.5,2.5,7.8,1.7,8.1,3.7,8.4,2.2,1.1,3.3,1.4,4.1,1.7,3.6,2,4.6,2.3,5.2,2.6,4.3,2.9,5.8,3.2,4.7,3.5,6.2,3.8,5.3,4.1,6.9,4.4,5,4.7,6.3,5,4.5,5.3,5.6,5.6,6.6,5.9,4.9,6.2,5.4,6.5,3.6,6.8,4.6,1.3,5.5,1.6,6.4,1.9,7.3,2.2,6.7,2.5,7.5,2.8,6.8,1.2,7,1.1,8.6,1.5,8.3,2,7.9,3,7.4,3.5,5.5,4,3.3,5.5,2.9,7,2.6,8.5,1.45,9.5,2.3,10.2,2.8,10.8,1.6,11.5,3.2,12.2,1.9,13,2.6,1.1,2.3,1.4,1.4,2.4,1.35,3.4,1.6,4.4,2.3,5.2,1.4,6.2,1.6,7.7,4.5,8.8,2.9,9.8,3.4,9.2,4.2,10.5,5,11.2,5.9,1.3,9.5,2.5,9,
  1.1,1.8,1.3,2.6,1.5,3,1.7,1.6,1.9,2.9,2.1,3.5,2.2,2.1,2.5,1.5,2.6,3.6,2.8,2.7,3.1,2,3.2,3.9,3.4,2.3,3.7,1.6,3.8,3,4,2.1,4.3,3.6,4.6,2.3,4.9,3.3,5.2,1.8,5.4,2.6,5.7,3.8,6,2,6.3,3.2,6.6,1.7,6.9,2.9,7.3,2,7.6,3.8,8,2.4,1.2,4.5,1.6,5,1.8,4.2,2.2,3.9,2.4,5.5,2.7,5,3.1,6.1,3.3,5.2,3.6,4.4,4,5.7,4.3,4.8,4.6,5.6,5,6,5.3,4.2,5.8,5,6.1,4.6,6.6,5.8,7,4,1.4,6.1,1.8,6.8,2.3,7,2.9,6.3,3.7,6.8,4.5,7.3,5.1,6.6,1.15,1.35,1.9,1.35,2.8,1.5,3.6,1.4,4.6,1.45,5.6,1.35,
  1.05,2,1.25,3.8,1.35,2.2,1.45,4.8,1.55,1.5,1.65,3.3,1.75,5.7,1.85,2.3,1.95,4,2.05,2.6,2.15,6.2,2.3,1.9,2.35,4.4,2.45,3.2,2.6,1.6,2.65,5.8,2.75,3.4,2.85,2.1,2.95,4.5,3.05,2.8,3.15,5.6,3.25,1.5,3.35,3,3.45,6.5,3.55,2.2,3.65,4.9,3.75,3.4,3.9,2.5,4.05,4.3,4.15,1.7,4.25,5.3,4.4,2.8,4.5,3.9,4.65,1.5,4.75,4.1,4.85,2.9,5,3.6,5.15,2.2,5.3,3.2,5.5,4.3,5.7,2.4,5.9,1.5,6.2,3.6,6.5,2.6,6.8,3.9,7.1,1.9,7.5,3.1,1.2,6.6,1.7,7.6,2,5.4,2.8,6,3.4,7,1.4,2.8,1.1,4.2,1.6,3.9,1.9,3.3,2.1,2,2.6,2.4];
const a3Genes = ['FOXS1', 'VSIG4', 'FCGR3A', 'CDKN2D', 'POSTN', 'CTHRC1'];
const a3GeneX = [8.0, 3.9, 8.27, 4.0, 18.57, 15.2];
const a3GeneY = [11.78, 11.07, 10.47, 10.23, 9.97, 9.97];
const a3LabelX = [15.5, 0.9, 16.1, 5.0, 25.6, 21.3];
const a3LabelY = [12.4, 11.9, 11.24, 9.5, 10.1, 9.07];

// ---------- B: GO enrichment ----------
const b1Terms = [['Positive regulation of epithelial', 'mesenchymal transition'], 'Epithelial cell migration', 'TGFβ receptor signaling pathway', 'Osteoblast differentiation', 'Response TGFβ', 'Bone mineralization', 'Bone resorption', 'Ossification', ['Extracellular structure', 'organization'], 'Extracellular matrix organization'];
const b1Rich = [0.1397, 0.052, 0.0689, 0.0736, 0.0696, 0.1194, 0.1714, 0.1012, 0.1538, 0.1538];
const b1Genes = [12, 22, 28, 34, 30, 22, 15, 40, 62, 62];
const b1P = [2.4e-5, 1.45e-5, 1.1e-5, 5.2e-6, 7.5e-6, 3.3e-6, 2.4e-6, 1.7e-6, 5e-7, 5e-7];
const b1XTicks = [0.05, 0.075, 0.1, 0.125, 0.15, 0.175];
const b1XLabels = ['0.050', '0.075', '0.100', '0.125', '0.150', '0.175'];
const b1SizeBreaks = [20, 40, 60];
const b1PLabels = ['1.5e-05', '5.0e-06'];

const b2Terms = [['Negative regulation of mitotic cell', 'cycle phase transition'], ['Negative regulation of mitotic', 'sister chromatid separation'], ['Negative regulation of mitotic', 'cell cycle'], 'DNA recombination', 'Double-strand break repair', 'Cell cycle checkpoint', ['G2/M transition of mitotic', 'cell cycle'], 'DNA replication', 'Nuclear division', 'Chromosome segregation'];
const b2Rich = [0.3138, 0.612, 0.305, 0.3276, 0.35, 0.386, 0.374, 0.391, 0.34, 0.391];
const b2Genes = [118, 20, 128, 95, 90, 100, 85, 105, 110, 115];
const b2P = [6.5e-11, 6.2e-11, 6.1e-12, 7.4e-12, 6.1e-12, 4.2e-12, 4.8e-12, 3e-12, 2.3e-12, 1.6e-12];
const b2XTicks = [0.3, 0.4, 0.5, 0.6];
const b2XLabels = ['0.3', '0.4', '0.5', '0.6'];
const b2SizeBreaks = [25, 50, 75, 100, 125];
const b2PLabels = ['6e-11', '4e-11', '2e-11'];

const b3Terms = ['Interleukin-4 production', ['Negative regulation of', 'chromosome separation'], ['Negative regulation of', 'immune system process'], ['Negative regulation of mitotic', 'sister chromatid separation'], 'Mitotic nuclear division', 'Extracellular structure organization', 'Extracellular matrix organization', 'Mitotic sister chromatid separation', 'Chromosome segregation', ['Positive regulation of leukpcyte', 'activation']];
const b3Rich = [0.342, 0.35, 0.1223, 0.359, 0.1648, 0.1488, 0.1488, 0.2168, 0.1648, 0.1648];
const b3Genes = [20, 20, 55, 19, 42, 40, 40, 32, 45, 60];
const b3P = [1.8e-7, 2.6e-8, 7e-9, 2.6e-8, 1.2e-8, 1.4e-8, 1.4e-8, 1.6e-8, 1e-8, 6e-9];
const b3XTicks = [0.15, 0.2, 0.25, 0.3, 0.35];
const b3XLabels = ['0.15', '0.20', '0.25', '0.30', '0.35'];
const b3SizeBreaks = [20, 30, 40, 50, 60];
const b3PLabels = ['1.5e-07', '1.0e-07', '5.0e-08'];

// ---------- C: KEGG enrichment ----------
const c1Terms = ['Steroid biosynthesis', 'Apoptosis', 'Osteoclast differentiation', 'Cellular senescence', 'MAPK signaling pathway', ['Parathyroid hormone synthesis,', 'secretion and action'], ['Leukocyte transendothelial', 'migration'], 'PI3K-Akt signaling pathway', 'ECM-receptor interaction', 'Focal adhesion'];
const c1Rich = [0.409, 0.286, 0.291, 0.284, 0.291, 0.3485, 0.359, 0.34, 0.5935, 0.449];
const c1Genes = [5, 8, 8, 8, 12, 10, 10, 22, 13, 25];
const c1P = [0.046, 0.0334, 0.0316, 0.0307, 0.0078, 0.0045, 0.0045, 0.0032, 0.0023, 0.001];
const c1XTicks = [0.3, 0.4, 0.5, 0.6];
const c1XLabels = ['0.3', '0.4', '0.5', '0.6'];
const c1SizeBreaks = [5, 10, 15, 20, 25];
const c1PLabels = ['0.04', '0.02'];

const c2Terms = ['Cellular senescence', 'Nucleotide excision repair', 'p53 signaling pathway', 'Osteoclast differentiation', 'Cell adhesion molecules (CAMs)', 'Base excision repair', 'Homologous recombination', 'Apoptosis', 'DNA replication', 'Cell cycle'];
const c2Rich = [0.251, 0.341, 0.308, 0.29, 0.282, 0.486, 0.49, 0.333, 0.614, 0.469];
const c2Genes = [40, 18, 28, 34, 34, 16, 17, 32, 16, 52];
const c2P = [0.0025, 0.00202, 0.00166, 0.00046, 0.00039, 0.00022, 0.00022, 0.00029, 0.00015, 0.0001];
const c2XTicks = [0.3, 0.4, 0.5, 0.6];
const c2XLabels = ['0.3', '0.4', '0.5', '0.6'];
const c2SizeBreaks = [20, 30, 40, 50];
const c2PLabels = ['0.002', '0.001'];

const c3Terms = ['Apoptosis', 'IL-17 signaling pathway', 'Cellular senescence', 'p53 signaling pathway', 'Antifolate resistance', 'Osteoclast differentiation', ['Cytokine-cytokine receptor', 'interaction'], 'DNA replication', 'Th17 cell differentiation', 'Cell cycle'];
const c3Rich = [0.124, 0.139, 0.137, 0.1806, 0.2907, 0.164, 0.139, 0.334, 0.2055, 0.259];
const c3Genes = [22, 20, 25, 18, 8, 24, 42, 10, 24, 32];
const c3P = [0.0098, 0.0088, 0.0016, 0.0012, 0.0008, 0.0011, 0.0008, 0.0004, 0.0007, 0.0003];
const c3XTicks = [0.15, 0.2, 0.25, 0.3];
const c3XLabels = ['0.15', '0.20', '0.25', '0.30'];
const c3SizeBreaks = [10, 20, 30, 40];
const c3PLabels = ['0.0075', '0.0050', '0.0025'];

// ---------- drawing ----------
const FF = "'Liberation Sans', Arial, sans-serif";
Chart.defaults.font.family = FF;
const PURPLE = '#22104a';
const LIGHT = [86, 177, 247], DARK = [19, 43, 67];
const GREY = 'rgba(186,186,186,0.78)', BLUE = 'rgba(30,72,162,0.75)', RED = 'rgba(230,26,26,0.76)';

function pairs(a) {
  const out = [];
  for (let i = 0; i < a.length; i += 2) out.push({ x: a[i], y: a[i + 1] });
  return out;
}
function mix(t) {
  t = Math.max(0, Math.min(1, t));
  const c = DARK.map((d, i) => Math.round(d + (LIGHT[i] - d) * t));
  return 'rgb(' + c.join(',') + ')';
}
function makeCanvas(left, top, w, h) {
  const c = document.createElement('canvas');
  c.width = w; c.height = h;
  c.style.cssText = `position:absolute;left:${left}px;top:${top}px;width:${w}px;height:${h}px`;
  document.body.appendChild(c);
  return c;
}
function tickList(major, minor) {
  return major.map(v => ({ value: v })).concat(minor.map(v => ({ value: v, minor: true })))
    .sort((a, b) => a.value - b.value);
}
function richText(ctx, parts, x, y, size, rot) {
  ctx.save();
  ctx.translate(x, y);
  if (rot) ctx.rotate(rot);
  const fonts = parts.map(p => (p[1] ? Math.round(size * 0.62) : size) + 'px ' + FF);
  let w = 0;
  const ws = parts.map((p, i) => { ctx.font = fonts[i]; const m = ctx.measureText(p[0]).width; w += m; return m; });
  let cx = -w / 2;
  ctx.textAlign = 'left';
  ctx.textBaseline = 'alphabetic';
  parts.forEach((p, i) => {
    ctx.font = fonts[i];
    ctx.fillText(p[0], cx, size * 0.36 + (p[1] ? size * 0.13 : 0));
    cx += ws[i];
  });
  ctx.restore();
}
function arrow(ctx, px, py, qx, qy) {
  const dx = qx - px, dy = qy - py, len = Math.hypot(dx, dy);
  if (len < 28) return;
  const ux = dx / len, uy = dy / len;
  const tx = px + ux * 4.5, ty = py + uy * 4.5;
  ctx.strokeStyle = '#000'; ctx.fillStyle = '#000'; ctx.lineWidth = 2;
  ctx.beginPath(); ctx.moveTo(px + ux * 17, py + uy * 17); ctx.lineTo(tx, ty); ctx.stroke();
  ctx.beginPath();
  ctx.moveTo(tx, ty);
  ctx.lineTo(tx + ux * 8 - uy * 4, ty + uy * 8 + ux * 4);
  ctx.lineTo(tx + ux * 8 + uy * 4, ty + uy * 8 - ux * 4);
  ctx.closePath(); ctx.fill();
}

function volcano(o) {
  const cv = makeCanvas(o.left, 0, o.width, 780);
  const gridColor = c => (c.tick && c.tick.minor ? '#F1F1F1' : '#EBEBEB');
  const gridWidth = c => (c.tick && c.tick.minor ? 1.6 : 3);
  const tickCol = c => (c.tick && c.tick.minor ? 'rgba(0,0,0,0)' : '#222');
  const label = (v, i, t) => (t[i].minor ? '' : String(v));
  const pt = { pointRadius: 5, pointBorderWidth: 0, pointHoverRadius: 5 };
  new Chart(cv, {
    type: 'scatter',
    data: {
      datasets: [
        Object.assign({ data: o.gx.map((v, i) => ({ x: v, y: o.gy[i] })), pointBackgroundColor: RED }, pt),
        Object.assign({ data: pairs(o.up), pointBackgroundColor: RED }, pt),
        Object.assign({ data: pairs(o.down), pointBackgroundColor: BLUE }, pt),
        Object.assign({ data: pairs(o.grey), pointBackgroundColor: GREY }, pt)
      ]
    },
    options: {
      responsive: false, animation: false, devicePixelRatio: 1, events: [],
      layout: { autoPadding: false, padding: { top: 100.5, right: o.padR, left: 0, bottom: 0 } },
      plugins: { legend: { display: false }, tooltip: { enabled: false } },
      scales: {
        x: {
          type: 'linear', min: o.xRange[0], max: o.xRange[1],
          afterBuildTicks: s => { s.ticks = tickList(o.xMajor, o.xMinor); },
          afterFit: s => { s.height = 152.3; },
          grid: { color: gridColor, lineWidth: gridWidth, tickColor: tickCol, tickLength: 7, tickWidth: 2 },
          border: { display: true, color: '#000', width: 3 },
          ticks: { autoSkip: false, minRotation: 0, maxRotation: 0, padding: 10, color: '#000', font: { size: 39 }, callback: label }
        },
        y: {
          type: 'linear', min: o.yRange[0], max: o.yRange[1],
          afterBuildTicks: s => { s.ticks = tickList(o.yMajor, o.yMinor); },
          afterFit: s => { s.width = o.yw; },
          grid: { color: gridColor, lineWidth: gridWidth, tickColor: tickCol, tickLength: 7, tickWidth: 2 },
          border: { display: true, color: '#000', width: 3 },
          ticks: { autoSkip: false, padding: 8, color: '#000', font: { size: 39 }, callback: label }
        }
      }
    },
    plugins: [{
      id: 'volcanoDecor',
      afterDatasetsDraw(chart) {
        const { ctx, chartArea: a, scales: { x, y } } = chart;
        ctx.save();
        ctx.setLineDash([9, 7]);
        ctx.strokeStyle = '#1a1a1a';
        ctx.lineWidth = 1.8;
        [-1, 1].forEach(v => {
          const px = x.getPixelForValue(v);
          ctx.beginPath(); ctx.moveTo(px, a.top); ctx.lineTo(px, a.bottom); ctx.stroke();
        });
        const py = y.getPixelForValue(1.3);
        ctx.beginPath(); ctx.moveTo(a.left, py); ctx.lineTo(a.right, py); ctx.stroke();
        ctx.setLineDash([]);
        const pts = chart.getDatasetMeta(0).data;
        ctx.font = '37px ' + FF;
        ctx.textAlign = 'center';
        ctx.textBaseline = 'middle';
        o.genes.forEach((g, i) => {
          const lx = x.getPixelForValue(o.lx[i]), ly = y.getPixelForValue(o.ly[i]);
          arrow(ctx, pts[i].x, pts[i].y, lx, ly);
          ctx.fillStyle = '#000';
          ctx.fillText(g, lx, ly);
        });
        ctx.restore();
      },
      afterDraw(chart) {
        const ctx = chart.ctx;
        ctx.save();
        ctx.fillStyle = PURPLE;
        ctx.textAlign = 'center';
        ctx.textBaseline = 'middle';
        ctx.font = '37px ' + FF;
        ctx.fillText(o.title, o.titleX, 39);
        richText(ctx, [['Log', 0], ['2', 1], [' Fold Change', 0]], o.xTitleX, 719, 38, 0);
        richText(ctx, [['-Log', 0], ['2', 1], [' p value', 0]], o.yTitleX, 314, 38, -Math.PI / 2);
        ctx.restore();
      }
    }]
  });
}

function dotPlot(o) {
  const cv = makeCanvas(o.left, o.top, o.width, o.height);
  const nMin = Math.min(...o.genes), nMax = Math.max(...o.genes);
  const R0 = 2.4, R1 = 7;
  const rad = n => Math.sqrt(R0 * R0 + (R1 * R1 - R0 * R0) * Math.max(0, n - nMin) / (nMax - nMin));
  const col = p => mix((p - o.pDom[0]) / (o.pDom[1] - o.pDom[0]));
  const n = o.terms.length;
  new Chart(cv, {
    type: 'scatter',
    data: {
      datasets: [{
        data: o.rich.map((v, i) => ({ x: v, y: i + 1 })),
        pointRadius: c => rad(o.genes[c.dataIndex]),
        pointBackgroundColor: c => col(o.p[c.dataIndex]),
        pointBorderWidth: 0
      }]
    },
    options: {
      responsive: false, animation: false, devicePixelRatio: 1, events: [],
      layout: { autoPadding: false, padding: { top: o.padTop, right: o.padR, left: 0, bottom: 0 } },
      plugins: { legend: { display: false }, tooltip: { enabled: false } },
      scales: {
        x: {
          type: 'linear', min: o.xRange[0], max: o.xRange[1],
          afterBuildTicks: s => { s.ticks = o.xTicks.map(v => ({ value: v })); },
          afterFit: s => { s.height = o.xh; },
          grid: { drawOnChartArea: false, drawTicks: true, tickLength: 8, tickColor: '#333', tickWidth: 2 },
          border: { display: false },
          ticks: { autoSkip: false, minRotation: 45, maxRotation: 45, padding: 2, color: o.tickColor, font: { size: 33 }, callback: (v, i) => o.xLabels[i] }
        },
        y: {
          type: 'linear', min: 0.4, max: n + 0.6, reverse: true,
          afterBuildTicks: s => { s.ticks = o.terms.map((t, i) => ({ value: i + 1 })); },
          afterFit: s => { s.width = o.yw; },
          grid: { display: false },
          border: { display: false },
          ticks: { display: false }
        }
      }
    },
    plugins: [{
      id: 'dotDecor',
      afterDraw(chart) {
        const { ctx, chartArea: a, scales: { y } } = chart;
        ctx.save();
        ctx.strokeStyle = '#000';
        ctx.lineWidth = 2.5;
        ctx.strokeRect(a.left, a.top, a.right - a.left, a.bottom - a.top);
        // term labels: block right-aligned, lines centred
        ctx.font = '33px ' + FF;
        ctx.fillStyle = o.labelColor;
        ctx.textAlign = 'center';
        ctx.textBaseline = 'middle';
        o.terms.forEach((t, i) => {
          const lines = Array.isArray(t) ? t : [t];
          const w = Math.max(...lines.map(s => ctx.measureText(s).width));
          const cx = a.left - 7 - w / 2;
          const cy = y.getPixelForValue(i + 1);
          lines.forEach((s, j) => ctx.fillText(s, cx, cy + (j - (lines.length - 1) / 2) * o.lineH));
        });
        // titles
        ctx.fillStyle = PURPLE;
        ctx.font = '37px ' + FF;
        ctx.fillText(o.title, o.titleX, o.titleY);
        ctx.fillStyle = '#000';
        ctx.font = '33px ' + FF;
        ctx.fillText('RichFactor', (a.left + a.right) / 2, o.richY);
        // size legend
        const L = o.legend;
        ctx.fillText('Gene number', L.geneX, L.titleY);
        const step = 21.6, k = o.sizeBreaks.length;
        const x0 = L.keyX - (k - 1) * step / 2;
        ctx.fillStyle = '#F2F2F2';
        ctx.fillRect(x0 - 11, L.keyY - 13.5, (k - 1) * step + 22, 27);
        ctx.fillStyle = '#000';
        o.sizeBreaks.forEach((b, i) => {
          ctx.beginPath(); ctx.arc(x0 + i * step, L.keyY, rad(b), 0, Math.PI * 2); ctx.fill();
        });
        ctx.font = '31px ' + FF;
        o.sizeBreaks.forEach((b, i) => {
          ctx.save();
          ctx.translate(x0 + i * step, L.keyY + 16);
          ctx.rotate(-Math.PI / 2);
          ctx.textAlign = 'right';
          ctx.textBaseline = 'middle';
          ctx.fillText(String(b), 0, 0);
          ctx.restore();
        });
        // colour legend
        ctx.font = '33px ' + FF;
        ctx.textAlign = 'center';
        ctx.fillText('P-value', (L.barX0 + L.barX1) / 2, L.titleY);
        const bw = L.barX1 - L.barX0, by = L.keyY - 12, bh = 23;
        const g = ctx.createLinearGradient(L.barX0, 0, L.barX1, 0);
        for (let s = 0; s <= 10; s++) g.addColorStop(s / 10, mix(1 - s / 10));
        ctx.fillStyle = g;
        ctx.fillRect(L.barX0, by, bw, bh);
        ctx.strokeStyle = 'rgba(255,255,255,0.85)';
        ctx.lineWidth = 1.5;
        L.pTickPos.forEach(f => {
          const x = L.barX0 + f * bw;
          ctx.beginPath(); ctx.moveTo(x, by); ctx.lineTo(x, by + 5); ctx.moveTo(x, by + bh - 5); ctx.lineTo(x, by + bh); ctx.stroke();
        });
        ctx.fillStyle = '#000';
        ctx.font = '30px ' + FF;
        o.pLabels.forEach((t, i) => {
          const x = L.barX0 + L.pTickPos[i] * bw;
          ctx.save();
          ctx.translate(x + 2, by + bh + 4);
          ctx.rotate(-Math.PI / 4);
          ctx.textAlign = 'right';
          ctx.textBaseline = 'top';
          ctx.fillText(t, 0, 0);
          ctx.restore();
        });
        ctx.restore();
      }
    }]
  });
}

// ---- panel A ----
volcano({ left: 0, width: 824, yw: 128.5, padR: 31.5, xRange: [-16.49, 16.38], yRange: [-0.39, 7.89],
  xMajor: [-10, 0, 10], xMinor: [-15, -5, 5, 15], yMajor: [0, 2, 4, 6], yMinor: [1, 3, 5, 7],
  grey: a1Grey, down: a1Down, up: a1Up, genes: a1Genes, gx: a1GeneX, gy: a1GeneY, lx: a1LabelX, ly: a1LabelY,
  title: 'prad_su2c_2019', titleX: 455, xTitleX: 461, yTitleX: 33 });
volcano({ left: 824, width: 824, yw: 133.4, padR: 20.1, xRange: [-131.4, 132.2], yRange: [-0.79, 15.33],
  xMajor: [-100, -50, 0, 50, 100], xMinor: [-125, -75, -25, 25, 75, 125], yMajor: [0, 5, 10, 15], yMinor: [2.5, 7.5, 12.5],
  grey: a2Grey, down: a2Down, up: a2Up, genes: a2Genes, gx: a2GeneX, gy: a2GeneY, lx: a2LabelX, ly: a2LabelY,
  title: 'prad_tcga', titleX: 456, xTitleX: 465, yTitleX: 32 });
volcano({ left: 1648, width: 826, yw: 138.2, padR: 28, xRange: [-32.9, 32.8], yRange: [-0.76, 15.4],
  xMajor: [-20, 0, 20], xMinor: [-30, -10, 10, 30], yMajor: [0, 5, 10, 15], yMinor: [2.5, 7.5, 12.5],
  grey: a3Grey, down: a3Down, up: a3Up, genes: a3Genes, gx: a3GeneX, gy: a3GeneY, lx: a3LabelX, ly: a3LabelY,
  title: 'prostate_dkfz_2018', titleX: 462, xTitleX: 468, yTitleX: 32 });

// ---- panel B ----
const bRow = { top: 760, height: 1140, padTop: 90, xh: 209, titleY: 36 };
dotPlot(Object.assign({}, bRow, { left: 0, width: 824, yw: 507.5, padR: 10.4, xRange: [0.0466, 0.1767],
  terms: b1Terms, rich: b1Rich, genes: b1Genes, p: b1P, pDom: [5e-7, 2.4e-5], xTicks: b1XTicks, xLabels: b1XLabels,
  sizeBreaks: b1SizeBreaks, pLabels: b1PLabels, title: 'prad_su2c_2019', titleX: 457, richY: 1040, lineH: 33,
  labelColor: '#000', tickColor: '#000',
  legend: { geneX: 128, keyX: 132, titleY: 997, keyY: 1034, barX0: 300, barX1: 410, pTickPos: [0.34, 0.67] } }));
dotPlot(Object.assign({}, bRow, { left: 824, width: 824, yw: 505, padR: 10, xRange: [0.291, 0.627],
  terms: b2Terms, rich: b2Rich, genes: b2Genes, p: b2P, pDom: [1e-12, 6.5e-11], xTicks: b2XTicks, xLabels: b2XLabels,
  sizeBreaks: b2SizeBreaks, pLabels: b2PLabels, title: 'prad_tcga', titleX: 461, richY: 1024, lineH: 34,
  labelColor: '#000', tickColor: '#000',
  legend: { geneX: 144, keyX: 147, titleY: 997, keyY: 1034, barX0: 335, barX1: 444, pTickPos: [0.03, 0.345, 0.665] } }));
dotPlot(Object.assign({}, bRow, { left: 1648, width: 826, yw: 512, padR: 4.5, xRange: [0.1113, 0.3714],
  terms: b3Terms, rich: b3Rich, genes: b3Genes, p: b3P, pDom: [5e-9, 1.8e-7], xTicks: b3XTicks, xLabels: b3XLabels,
  sizeBreaks: b3SizeBreaks, pLabels: b3PLabels, title: 'prostate_dkfz_2018', titleX: 472, richY: 1034, lineH: 41,
  labelColor: '#000', tickColor: '#000',
  legend: { geneX: 139, keyX: 147, titleY: 997, keyY: 1034, barX0: 360, barX1: 467, pTickPos: [0.235, 0.485, 0.735] } }));

// ---- panel C ----
const cRow = { top: 1900, height: 1122, padTop: 100.6, xh: 181, titleY: 46 };
dotPlot(Object.assign({}, cRow, { left: 0, width: 824, yw: 507.5, padR: 10.4, xRange: [0.272, 0.607],
  terms: c1Terms, rich: c1Rich, genes: c1Genes, p: c1P, pDom: [0.001, 0.046], xTicks: c1XTicks, xLabels: c1XLabels,
  sizeBreaks: c1SizeBreaks, pLabels: c1PLabels, title: 'prad_su2c_2019', titleX: 457, richY: 1029, lineH: 39,
  labelColor: '#000', tickColor: '#000',
  legend: { geneX: 147, keyX: 153, titleY: 995, keyY: 1030, barX0: 305, barX1: 413, pTickPos: [0.14, 0.57] } }));
dotPlot(Object.assign({}, cRow, { left: 824, width: 824, yw: 505, padR: 10, xRange: [0.2326, 0.63],
  terms: c2Terms, rich: c2Rich, genes: c2Genes, p: c2P, pDom: [0.0001, 0.0025], xTicks: c2XTicks, xLabels: c2XLabels,
  sizeBreaks: c2SizeBreaks, pLabels: c2PLabels, title: 'prad_tcga', titleX: 461, richY: 1029, lineH: 39,
  labelColor: '#000', tickColor: '#000',
  legend: { geneX: 134.5, keyX: 134.5, titleY: 992, keyY: 1030, barX0: 335, barX1: 444, pTickPos: [0.12, 0.57] } }));
dotPlot(Object.assign({}, cRow, { left: 1648, width: 826, yw: 512, padR: 4.5, xRange: [0.114, 0.345],
  terms: c3Terms, rich: c3Rich, genes: c3Genes, p: c3P, pDom: [0.0002, 0.0098], xTicks: c3XTicks, xLabels: c3XLabels,
  sizeBreaks: c3SizeBreaks, pLabels: c3PLabels, title: 'prostate_dkfz_2018', titleX: 472, richY: 1029, lineH: 39,
  labelColor: PURPLE, tickColor: PURPLE,
  legend: { geneX: 139, keyX: 135.5, titleY: 992, keyY: 1030, barX0: 360, barX1: 467, pTickPos: [0.235, 0.485, 0.735] } }));
</script>
</body>
</html>
